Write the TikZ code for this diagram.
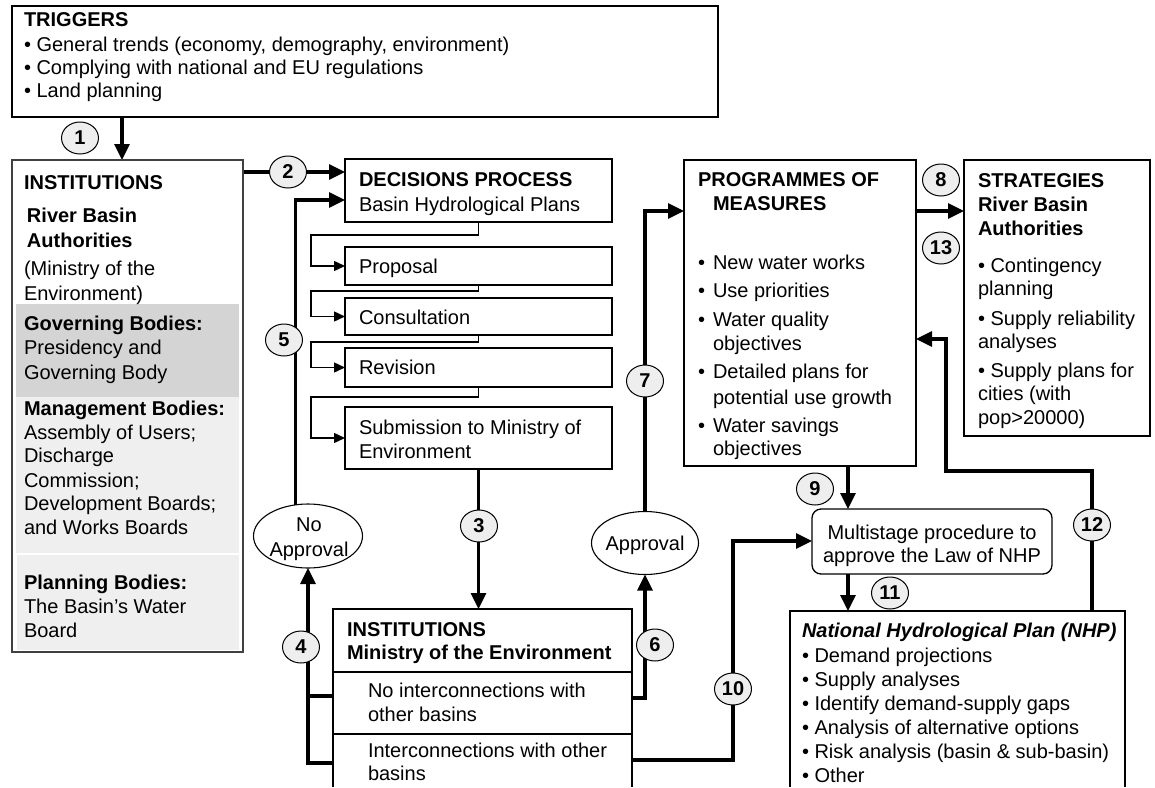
\documentclass[tikz,border=0pt]{standalone}
\usepackage{fontspec}
\setmainfont{Liberation Sans}
\usetikzlibrary{arrows.meta,shapes.geometric}
\pgfdeclarelayer{back}
\pgfdeclarelayer{wires}
\pgfsetlayers{back,wires,main}
\definecolor{numfill}{HTML}{EEEEEE}
\definecolor{govfill}{HTML}{D4D4D4}
\definecolor{mgmtfill}{HTML}{EFEFEF}

\begin{document}
\begin{tikzpicture}[x=1pt, y=-1pt,
  font=\fontsize{20}{24}\selectfont,
  box/.style={draw=black, line width=1.3pt, inner sep=0pt, outer sep=0pt, anchor=north west},
  openbox/.style={draw=none, inner sep=0pt, outer sep=0pt, anchor=north west},
  edge/.style={draw=black, line width=1.3pt},
  txt/.style={anchor=base west, inner sep=0pt, outer sep=0pt},
  ctxt/.style={anchor=base, inner sep=0pt, outer sep=0pt},
  num/.style={ellipse, draw=black, line width=1pt, fill=numfill, minimum width=37pt,
              minimum height=32pt, inner sep=0pt, font=\fontsize{20}{24}\selectfont\bfseries},
  oval/.style={ellipse, draw=black, line width=1.1pt, inner sep=0pt, outer sep=0pt},
  flow/.style={line width=3.2pt, -{Triangle[length=16pt,width=15pt]}},
  link/.style={line width=3.2pt},
  substep/.style={line width=1.4pt, -{Triangle[length=11pt,width=10pt]}},
]

% page
\useasboundingbox (0,0) rectangle (1155,787);
\begin{pgfonlayer}{back}
  \fill[white] (0,0) rectangle (1155,787);
\end{pgfonlayer}

% ---------------- boxes ----------------
\node[box, minimum width=706pt, minimum height=111pt] (trig) at (12,6) {};
\node[box, draw=black!75, minimum width=231pt, minimum height=492pt] (inst) at (12,160) {};
\node[box, minimum width=267pt, minimum height=63pt] (dec)  at (345,159) {};
\node[box, minimum width=267pt, minimum height=38pt] (prop) at (345,247) {};
\node[box, minimum width=267pt, minimum height=37pt] (cons) at (345,298) {};
\node[box, minimum width=267pt, minimum height=39pt] (rev)  at (345,348) {};
\node[box, minimum width=267pt, minimum height=62pt] (subm) at (345,407) {};
\node[openbox, minimum width=299pt, minimum height=178pt] (moe) at (333,609) {};
\node[box, minimum width=232pt, minimum height=306pt] (prog) at (684,160) {};
\node[box, minimum width=186pt, minimum height=276pt] (strat) at (964,160) {};
\node[box, rounded corners=9pt, minimum width=240pt, minimum height=65pt] (ms) at (812,509) {};
\node[openbox, minimum width=335pt, minimum height=176pt] (nhp) at (790,611) {};
\node[oval, minimum width=109pt, minimum height=64pt] (noap) at (308,536) {};
\node[oval, minimum width=107pt, minimum height=63pt] (ap) at (645,543) {};

% boxes whose lower edge runs past the page
\draw[edge] (moe.south west) |- (moe.north east) -- (moe.south east);
\draw[edge, line width=1.1pt] (moe.west |- 0,672) -- (moe.east |- 0,672);
\draw[edge, line width=1.1pt] (moe.west |- 0,734) -- (moe.east |- 0,734);
\draw[edge] (nhp.south west) |- (nhp.north east) -- (nhp.south east);

% shaded bands of the river basin institutions
\fill[govfill]  (16,304) rectangle (239,397);
\fill[mgmtfill] (16,397) rectangle (239,553);
\fill[mgmtfill] (17,555) rectangle (239,650);

% ---------------- texts ----------------
% triggers
\node[txt] (trig-h) at (24,27) {\textbf{TRIGGERS}};
\node[txt] (trig-a) at (24,51) {• General trends (economy, demography, environment)};
\node[txt] (trig-b) at (24,74) {• Complying with national and EU regulations};
\node[txt] (trig-c) at (24,97) {• Land planning};

% river basin institutions
\node[txt] (inst-h) at (24,189) {\textbf{INSTITUTIONS}};
\node[txt] (inst-a) at (27,222) {\textbf{River Basin}};
\node[txt] (inst-b) at (27,247) {\textbf{Authorities}};
\node[txt] (inst-c) at (24,275) {(Ministry of the};
\node[txt] (inst-d) at (24,300) {Environment)};
\node[txt] (inst-e) at (24,330) {\textbf{Governing Bodies:}};
\node[txt] (inst-f) at (24,354) {Presidency and};
\node[txt] (inst-g) at (24,379) {Governing Body};
\node[txt] (inst-i) at (24,415) {\textbf{Management Bodies:}};
\node[txt] (inst-j) at (24,439) {Assembly of Users;};
\node[txt] (inst-k) at (24,462) {Discharge};
\node[txt] (inst-l) at (24,487) {Commission;};
\node[txt] (inst-m) at (24,510) {Development Boards;};
\node[txt] (inst-n) at (24,534) {and Works Boards};
\node[txt] (inst-o) at (24,589) {\textbf{Planning Bodies:}};
\node[txt] (inst-p) at (24,613) {The Basin’s Water};
\node[txt] (inst-q) at (24,637) {Board};

% decisions process
\node[txt] (dec-h) at (359,186) {\textbf{DECISIONS PROCESS}};
\node[txt] (dec-a) at (359,211) {Basin Hydrological Plans};
\node[txt] (prop-t) at (359,273) {Proposal};
\node[txt] (cons-t) at (359,324) {Consultation};
\node[txt] (rev-t)  at (359,374) {Revision};
\node[txt] (subm-a) at (359,434) {Submission to Ministry of};
\node[txt] (subm-b) at (359,458) {Environment};

% ministry
\node[txt] (moe-h) at (347,636) {\textbf{INSTITUTIONS}};
\node[txt] (moe-a) at (347,659) {\textbf{Ministry of the Environment}};
\node[txt] (moe-b) at (368,697) {No interconnections with};
\node[txt] (moe-c) at (368,721) {other basins};
\node[txt] (moe-d) at (368,757) {Interconnections with other};
\node[txt] (moe-e) at (368,780) {basins};

% approval ovals
\node[ctxt] (noap-a) at (309,531) {No};
\node[ctxt] (noap-b) at (309,556) {Approval};
\node[ctxt] (ap-a)   at (645,550) {Approval};

% programmes of measures
\node[txt] (prog-h) at (698,186) {\textbf{PROGRAMMES OF}};
\node[txt] (prog-i) at (713,210) {\textbf{MEASURES}};
\foreach \yy/\bb/\tt [count=\k] in {269/•/New water works, 297/•/Use priorities,
    326/•/Water quality, 350//objectives, 378/•/Detailed plans for,
    404//potential use growth, 432/•/Water savings, 455//objectives}{
  \node[txt] (prog-b\k) at (698,\yy) {\bb};
  \node[txt] (prog-t\k) at (713,\yy) {\tt};
}

% strategies
\node[txt] (strat-h) at (978,187) {\textbf{STRATEGIES}};
\node[txt] (strat-a) at (978,211) {\textbf{River Basin}};
\node[txt] (strat-b) at (978,235) {\textbf{Authorities}};
\node[txt] (strat-c) at (978,272) {• Contingency};
\node[txt] (strat-d) at (978,295) {planning};
\node[txt] (strat-e) at (978,325) {• Supply reliability};
\node[txt] (strat-f) at (978,348) {analyses};
\node[txt] (strat-g) at (978,377) {• Supply plans for};
\node[txt] (strat-i) at (978,400) {cities (with};
\node[txt] (strat-j) at (978,424) {pop>20000)};

% multistage procedure
\node[ctxt] (ms-a) at (932,539) {Multistage procedure to};
\node[ctxt] (ms-b) at (932,562) {approve the Law of NHP};

% national hydrological plan
\node[txt] (nhp-h) at (802,637) {\textbf{\textit{National Hydrological Plan (NHP)}}};
\node[txt] (nhp-a) at (802,662) {• Demand projections};
\node[txt] (nhp-b) at (802,686) {• Supply analyses};
\node[txt] (nhp-c) at (802,710) {• Identify demand-supply gaps};
\node[txt] (nhp-d) at (802,734) {• Analysis of alternative options};
\node[txt] (nhp-e) at (802,758) {• Risk analysis (basin \& sub-basin)};
\node[txt] (nhp-f) at (802,782) {• Other};

% ---------------- connectors ----------------
\coordinate (a1)  at (122,0);
\coordinate (r2)  at (0,172);
\coordinate (r5)  at (0,200);
\coordinate (j4)  at (308,763);
\coordinate (r4)  at (0,696);
\coordinate (r6)  at (0,698);
\coordinate (r7)  at (0,211);
\coordinate (a9)  at (848,0);
\coordinate (r10) at (0,760);
\coordinate (c10) at (733,541);
\coordinate (c12) at (1092,471);
\coordinate (d12) at (946,339);

\begin{pgfonlayer}{wires}
  \draw[flow] (trig.south -| a1) -- (inst.north -| a1);
  \draw[flow] (inst.east |- r2) -- (dec.west |- r2);
  \draw[flow] (noap.112) |- (dec.west |- r5);
  % steps of the basin plan
  \draw[substep] (dec.south)  -- ++(0,13) -| ([xshift=-34pt]prop.west) -- (prop.west);
  \draw[substep] (prop.south) -- ++(0,6)  -| ([xshift=-34pt]cons.west) -- (cons.west);
  \draw[substep] (cons.south) -- ++(0,7)  -| ([xshift=-34pt]rev.west)  -- (rev.west);
  \draw[substep] (rev.south)  -- ++(0,10) -| ([xshift=-34pt]subm.west) -- (subm.west);
  % to and from the ministry
  \draw[flow] (subm.south) -- (subm.south |- moe.north);
  \draw[flow] (moe.west |- j4) -- (j4) -- (noap.south);
  \draw[link] (moe.west |- r4) -- (j4 |- r4);
  \draw[flow] (moe.east |- r6) -| (ap.south);
  \draw[flow] (ap.north) |- (prog.west |- r7);
  \draw[flow] (prog.east |- r7) -- (strat.west |- r7);
  \draw[flow] (prog.south -| a9) -- (ms.north -| a9);
  \draw[flow] (ms.south -| a9) -- (nhp.north -| a9);
  \draw[flow] (moe.east |- r10) -| (c10) -- (ms.west |- c10);
  \draw[flow] (nhp.north -| c12) -- (c12) -| (d12) -- (prog.east |- d12);
\end{pgfonlayer}

% ---------------- step numbers ----------------
\node[num] (n1)  at (80,138)   {1};
\node[num] (n2)  at (288,172)  {2};
\node[num] (n3)  at (479,526)  {3};
\node[num] (n4)  at (301,647)  {4};
\node[num] (n5)  at (284,340)  {5};
\node[num] (n6)  at (655,645)  {6};
\node[num] (n7)  at (645,381)  {7};
\node[num] (n8)  at (941,180)  {8};
\node[num] (n9)  at (815,489)  {9};
\node[num] (n10) at (733,689)  {10};
\node[num] (n11) at (890,593)  {11};
\node[num] (n12) at (1092,525) {12};
\node[num] (n13) at (941,248)  {13};

\end{tikzpicture}
\end{document}
